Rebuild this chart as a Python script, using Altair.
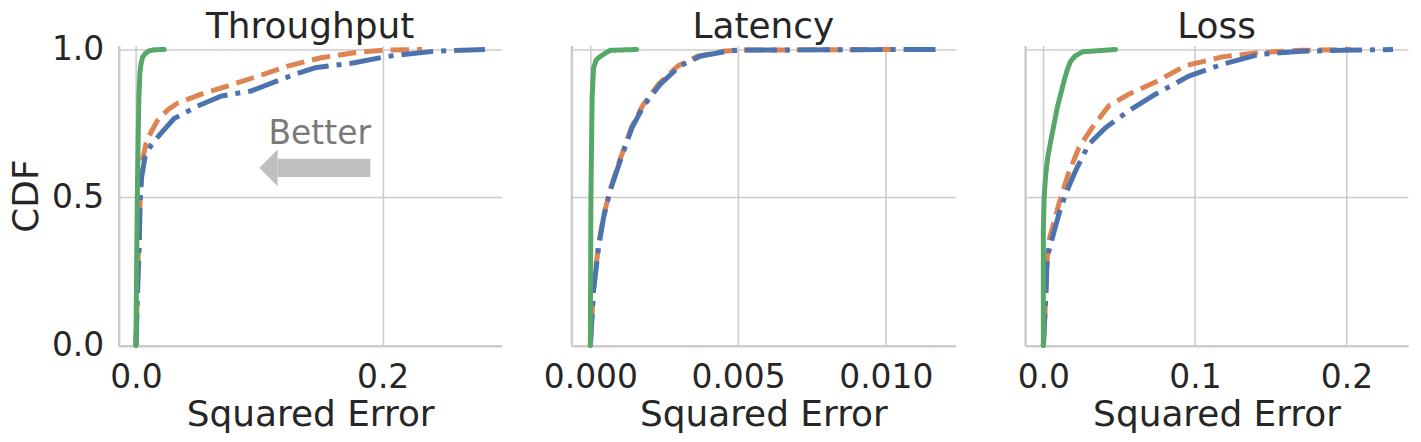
import altair as alt
import pandas as pd

# ---------------- data ----------------
METHODS = ["Method A", "Method B", "Method C"]          # blue dash-dot, orange dashed, green solid
COLORS = ["#4C72B0", "#DD8452", "#55A868"]
TITLES = ["Throughput", "Latency", "Loss"]

# Throughput
thr_a_x = [0.0, 0.0015, 0.0027, 0.0035, 0.0046, 0.0073, 0.0127, 0.0220, 0.0310, 0.0500, 0.0693, 0.0935,
           0.1180, 0.1285, 0.1450, 0.1770, 0.2040, 0.2420, 0.2830]
thr_a_y = [0.0, 0.20, 0.344, 0.50, 0.568, 0.636, 0.680, 0.725, 0.767, 0.809, 0.843, 0.860,
           0.899, 0.916, 0.938, 0.955, 0.977, 0.994, 1.0]
thr_b_x = [0.0, 0.0012, 0.0025, 0.0035, 0.0042, 0.0055, 0.0080, 0.0127, 0.0175, 0.0220, 0.0270, 0.0343,
           0.0530, 0.0747, 0.0990, 0.1230, 0.1500, 0.1770, 0.2010, 0.2320]
thr_b_y = [0.0, 0.20, 0.40, 0.50, 0.57, 0.63, 0.68, 0.725, 0.760, 0.781, 0.800, 0.820,
           0.849, 0.877, 0.910, 0.944, 0.972, 0.989, 0.998, 1.0]
thr_c_x = [0.0, 0.0004, 0.0011, 0.0018, 0.0024, 0.0032, 0.0040, 0.0055, 0.0075, 0.0105, 0.0150, 0.0230]
thr_c_y = [0.0, 0.20, 0.50, 0.70, 0.84, 0.92, 0.95, 0.975, 0.986, 0.995, 0.999, 1.0]

# Latency
lat_a_x = [0.0, 0.00011, 0.00028, 0.00045, 0.00067, 0.00101, 0.00141, 0.00180, 0.00236, 0.00303, 0.00371,
           0.00461, 0.00506, 0.00800, 0.01180]
lat_a_y = [0.0, 0.187, 0.333, 0.434, 0.523, 0.624, 0.736, 0.809, 0.882, 0.944, 0.977,
           0.994, 0.998, 0.999, 1.0]
lat_b_x = [0.0, 0.00010, 0.00027, 0.00044, 0.00066, 0.00099, 0.00139, 0.00176, 0.00230, 0.00296, 0.00362,
           0.00450, 0.00500, 0.00800, 0.01055]
lat_b_y = [0.0, 0.187, 0.333, 0.434, 0.523, 0.624, 0.736, 0.809, 0.882, 0.944, 0.977,
           0.994, 0.998, 0.999, 1.0]
lat_c_x = [0.0, 0.00002, 0.00006, 0.00011, 0.00020, 0.00034, 0.00067, 0.00157]
lat_c_y = [0.0, 0.50, 0.837, 0.938, 0.965, 0.977, 0.997, 1.0]

# Loss
los_a_x = [0.0, 0.0016, 0.0026, 0.0049, 0.0103, 0.0147, 0.0213, 0.0300, 0.0410, 0.0564, 0.0740, 0.0959,
           0.1180, 0.1420, 0.1700, 0.1970, 0.2307]
los_a_y = [0.0, 0.165, 0.300, 0.344, 0.445, 0.512, 0.591, 0.680, 0.736, 0.793, 0.849, 0.910,
           0.950, 0.983, 0.994, 0.997, 1.0]
los_b_x = [0.0, 0.0011, 0.0026, 0.0042, 0.0103, 0.0165, 0.0235, 0.0322, 0.0432, 0.0560, 0.0740, 0.0937,
           0.1180, 0.1440, 0.1700, 0.2030]
los_b_y = [0.0, 0.110, 0.300, 0.365, 0.479, 0.580, 0.669, 0.736, 0.810, 0.848, 0.890, 0.945,
           0.975, 0.990, 0.997, 1.0]
los_c_x = [0.0, 0.0, 0.0005, 0.0016, 0.0030, 0.0049, 0.0092, 0.0136, 0.0160, 0.0180, 0.0210, 0.0257, 0.0476]
los_c_y = [0.0, 0.389, 0.50, 0.580, 0.640, 0.692, 0.804, 0.893, 0.935, 0.960, 0.978, 0.992, 1.0]

# annotation
arrow_from = 0.19
arrow_to = 0.10
arrow_y = 0.60
better_x = 0.149
better_y = 0.68

# ---------------- styling ----------------
FONT = "DejaVu Sans"
TEXT = "#262626"
GRID = "#cccccc"
LW = 5
DASHES = {
    "Method A": [6.4 * LW, 1.6 * LW, 1.0 * LW, 1.6 * LW],
    "Method B": [3.7 * LW, 1.6 * LW],
    "Method C": [1, 0],
}
YMAX = 1.0134
W = {0: 384, 1: 385, 2: 384}
H = 301


def enc_x(domain, ticks, fmt):
    return alt.X("x:Q",
                 scale=alt.Scale(domain=domain, nice=False, zero=False),
                 axis=alt.Axis(values=ticks, format=fmt, title="Squared Error", grid=True,
                               ticks=False, tickSize=0, labelPadding=16, titlePadding=3,
                               labelFlush=False, labelOverlap=False))


def enc_y(first):
    if first:
        ax = alt.Axis(values=[0, 0.5, 1.0], format=".1f", title="CDF", grid=True, ticks=False,
                      tickSize=0, labelPadding=15, titlePadding=6, labelFlush=False)
    else:
        ax = alt.Axis(values=[0, 0.5, 1.0], title=None, labels=False, grid=True, ticks=False,
                      tickSize=0, labelFlush=False)
    return alt.Y("cdf:Q", scale=alt.Scale(domain=[0, YMAX], nice=False, zero=False), axis=ax)


def panel(idx, series, domain, ticks, fmt, annotate=False):
    xe = enc_x(domain, ticks, fmt)
    ye = enc_y(idx == 0)
    layers = []
    # draw order: orange, blue, green
    for m_i in [1, 0, 2]:
        xs, ys = series[m_i]
        df = pd.DataFrame({"x": xs, "cdf": ys, "method": METHODS[m_i]})
        layers.append(
            alt.Chart(df).mark_line(
                color=COLORS[m_i], strokeWidth=LW, strokeDash=DASHES[METHODS[m_i]],
                strokeCap="round" if m_i == 2 else "butt", strokeJoin="round"
            ).encode(x=xe, y=ye, order="cdf:Q")
        )
    if annotate:
        head_df = pd.DataFrame({"x": [arrow_to], "cdf": [arrow_y]})
        shaft_df = pd.DataFrame({"x": [arrow_from], "x2": [arrow_to + 0.015], "cdf": [arrow_y]})
        text_df = pd.DataFrame({"x": [better_x], "cdf": [better_y], "label": ["Better"]})
        layers.append(alt.Chart(shaft_df).mark_rule(color="#bfbfbf", strokeWidth=18.3,
                                                    strokeCap="butt")
                      .encode(x=xe, x2="x2:Q", y=ye))
        layers.append(alt.Chart(head_df).mark_point(shape="M 0 0 L 1 -1 L 1 1 Z", size=1354,
                                                    filled=True, opacity=1, color="#bfbfbf",
                                                    strokeWidth=0)
                      .encode(x=xe, y=ye))
        layers.append(alt.Chart(text_df).mark_text(font=FONT, fontSize=33, color="#7a7a7a",
                                                   align="center", baseline="alphabetic")
                      .encode(x=xe, y=ye, text="label:N"))
    # panel title drawn as a text mark just above the plot area
    title_df = pd.DataFrame({"label": [TITLES[idx]]})
    layers.append(alt.Chart(title_df).mark_text(font=FONT, fontSize=36, color=TEXT,
                                                align="center", baseline="alphabetic")
                  .encode(x=alt.value(W[idx] / 2), y=alt.value(-8), text="label:N"))
    return alt.layer(*layers).properties(width=W[idx], height=H)


p1 = panel(0, [(thr_a_x, thr_a_y), (thr_b_x, thr_b_y), (thr_c_x, thr_c_y)],
           [-0.01399, 0.29645], [0.0, 0.2], ".1f", annotate=True)
p2 = panel(1, [(lat_a_x, lat_a_y), (lat_b_x, lat_b_y), (lat_c_x, lat_c_y)],
           [-0.000641, 0.012352], [0.0, 0.005, 0.010], ".3f")
p3 = panel(2, [(los_a_x, los_a_y), (los_b_x, los_b_y), (los_c_x, los_c_y)],
           [-0.01204, 0.24059], [0.0, 0.1, 0.2], ".1f")

chart = alt.hconcat(p1, p2, p3, spacing=70, bounds="flush").properties(
    padding={"left": 0, "top": 0, "right": 5, "bottom": 5}
).configure_view(stroke=None).configure_axis(
    labelFont=FONT, titleFont=FONT, labelFontSize=33, titleFontSize=36,
    labelColor=TEXT, titleColor=TEXT, titleFontWeight="normal",
    gridColor=GRID, gridWidth=1.6, domainColor=GRID, domainWidth=2.5,
)

chart.save("out.html", embed_options={"renderer": "svg", "actions": False})
